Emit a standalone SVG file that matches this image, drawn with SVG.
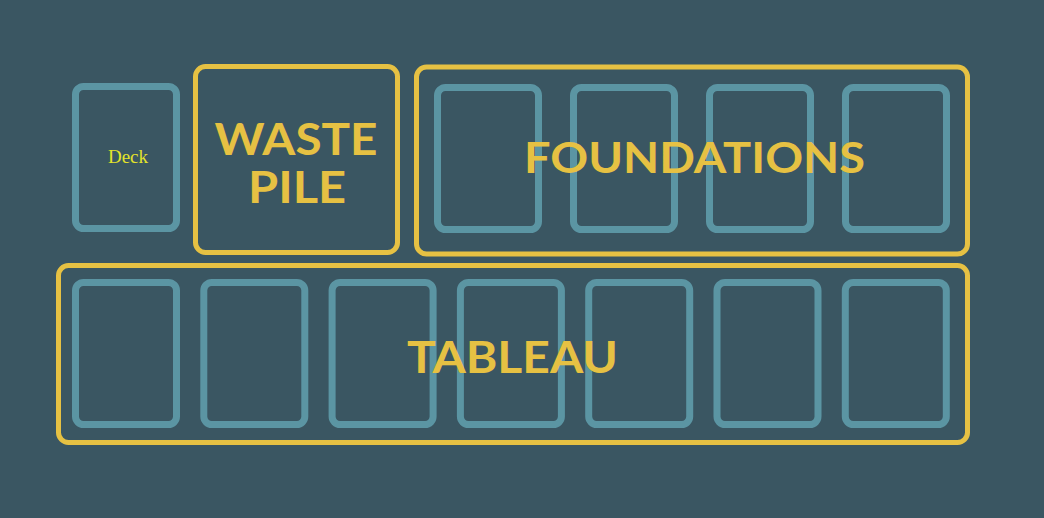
<svg xmlns="http://www.w3.org/2000/svg" width="1044" height="518" viewBox="0 0 1044 518">
<style>
.bg{fill:#3a5662}
.card{fill:none;stroke:#5b95a3;stroke-width:7}
.zone{fill:none;stroke:#e6c143;stroke-width:5}
.lbl{font-family:Lato,"Open Sans",sans-serif;font-weight:bold;fill:#e6c143;text-anchor:middle}
.deck{font-family:"Liberation Serif",serif;font-size:19px;fill:#e3e32a;text-anchor:middle}
</style>
<rect class="bg" x="0" y="0" width="1044" height="518"/>
<g id="deck">
<rect class="card" x="75.5" y="86.5" width="101" height="142" rx="8"/>
<text class="deck" x="128" y="163">Deck</text>
</g>
<g id="waste-pile">
<rect class="zone" x="195.5" y="66.5" width="202" height="186" rx="10"/>
<text class="lbl" x="296" y="155" font-size="44" textLength="163" lengthAdjust="spacingAndGlyphs">WASTE</text>
<text class="lbl" x="297" y="203" font-size="44" textLength="98" lengthAdjust="spacingAndGlyphs">PILE</text>
</g>
<g id="foundations">
<rect class="zone" x="416.5" y="67" width="551" height="187" rx="10"/>
<rect class="card" x="437.5" y="87.5" width="101" height="142" rx="8"/>
<rect class="card" x="573.5" y="87.5" width="101" height="142" rx="8"/>
<rect class="card" x="709.5" y="87.5" width="101" height="142" rx="8"/>
<rect class="card" x="845.5" y="87.5" width="101" height="142" rx="8"/>
<text class="lbl" x="694.5" y="173" font-size="42" textLength="341" lengthAdjust="spacingAndGlyphs">FOUNDATIONS</text>
</g>
<g id="tableau">
<rect class="zone" x="58.5" y="265.5" width="909" height="177" rx="10"/>
<rect class="card" x="75.5" y="282.5" width="101" height="142" rx="8"/>
<rect class="card" x="203.8" y="282.5" width="101" height="142" rx="8"/>
<rect class="card" x="332.1" y="282.5" width="101" height="142" rx="8"/>
<rect class="card" x="460.4" y="282.5" width="101" height="142" rx="8"/>
<rect class="card" x="588.7" y="282.5" width="101" height="142" rx="8"/>
<rect class="card" x="717" y="282.5" width="101" height="142" rx="8"/>
<rect class="card" x="845.3" y="282.5" width="101" height="142" rx="8"/>
<text class="lbl" x="512.5" y="373" font-size="43" textLength="211" lengthAdjust="spacingAndGlyphs">TABLEAU</text>
</g>
<g id="connectors"></g>
</svg>
